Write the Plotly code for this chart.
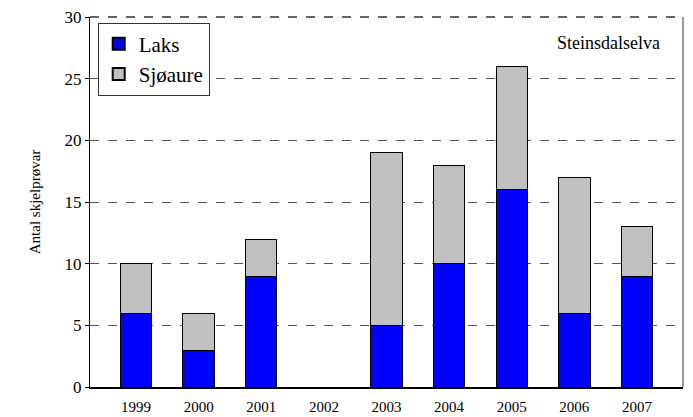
import plotly.graph_objects as go

years = ["1999", "2000", "2001", "2002", "2003", "2004", "2005", "2006", "2007"]
laks = [6, 3, 9, 0, 5, 10, 16, 6, 9]
sjoaure = [4, 3, 3, 0, 14, 8, 10, 11, 4]
y_ticks = [0, 5, 10, 15, 20, 25, 30]

FONT = "Times New Roman, Liberation Serif, DejaVu Serif, serif"

fig = go.Figure()
fig.add_trace(go.Bar(x=years, y=laks, name="Laks", marker=dict(color="#0000FF", line=dict(color="black", width=1)), width=0.5))
fig.add_trace(go.Bar(x=years, y=sjoaure, name="Sjøaure", marker=dict(color="#C0C0C0", line=dict(color="black", width=1)), width=0.5))

fig.update_layout(
    barmode="stack",
    width=693, height=417,
    margin=dict(l=90, r=10, t=17, b=30, autoexpand=False),
    paper_bgcolor="white", plot_bgcolor="white",
    font=dict(family=FONT, size=15, color="black"),
    showlegend=True,
    legend=dict(x=0.013, y=0.985, xanchor="left", yanchor="top", bordercolor="#333", borderwidth=1,
                bgcolor="white", font=dict(size=21, family=FONT), traceorder="normal",
                itemsizing="constant"),
    xaxis=dict(type="category", range=[-0.735, 8.735], showgrid=False, showline=True, linecolor="black", linewidth=2,
               ticks="outside", ticklen=5, tickcolor="rgba(0,0,0,0)", tickfont=dict(size=15, family=FONT),
               automargin=False, ticklabeloverflow="allow"),
    yaxis=dict(range=[0, 30], tickvals=y_ticks, showgrid=True, gridcolor="#555", griddash="dash", gridwidth=1,
               showline=True, linecolor="black", linewidth=1, ticks="outside", ticklen=4, tickcolor="black",
               zeroline=False, tickfont=dict(size=17, family=FONT), automargin=False, ticklabeloverflow="allow",
               title=dict(text="Antal skjelprøvar", font=dict(size=15, family=FONT), standoff=20)),
    annotations=[dict(text="Steinsdalselva", x=0.965, y=0.93, xref="paper", yref="paper", xanchor="right",
                      yanchor="middle", showarrow=False, font=dict(size=18, family=FONT))],
    shapes=[dict(type="line", xref="paper", yref="paper", x0=1, x1=1, y0=0, y1=1, line=dict(color="#777", width=1.5)),
            dict(type="line", xref="paper", yref="paper", x0=0, x1=1, y0=1, y1=1, line=dict(color="#333", width=1.5, dash="dash"))],
)

fig.write_html("out.html", config={"displayModeBar": False}, post_script="document.body.style.margin='0';")
